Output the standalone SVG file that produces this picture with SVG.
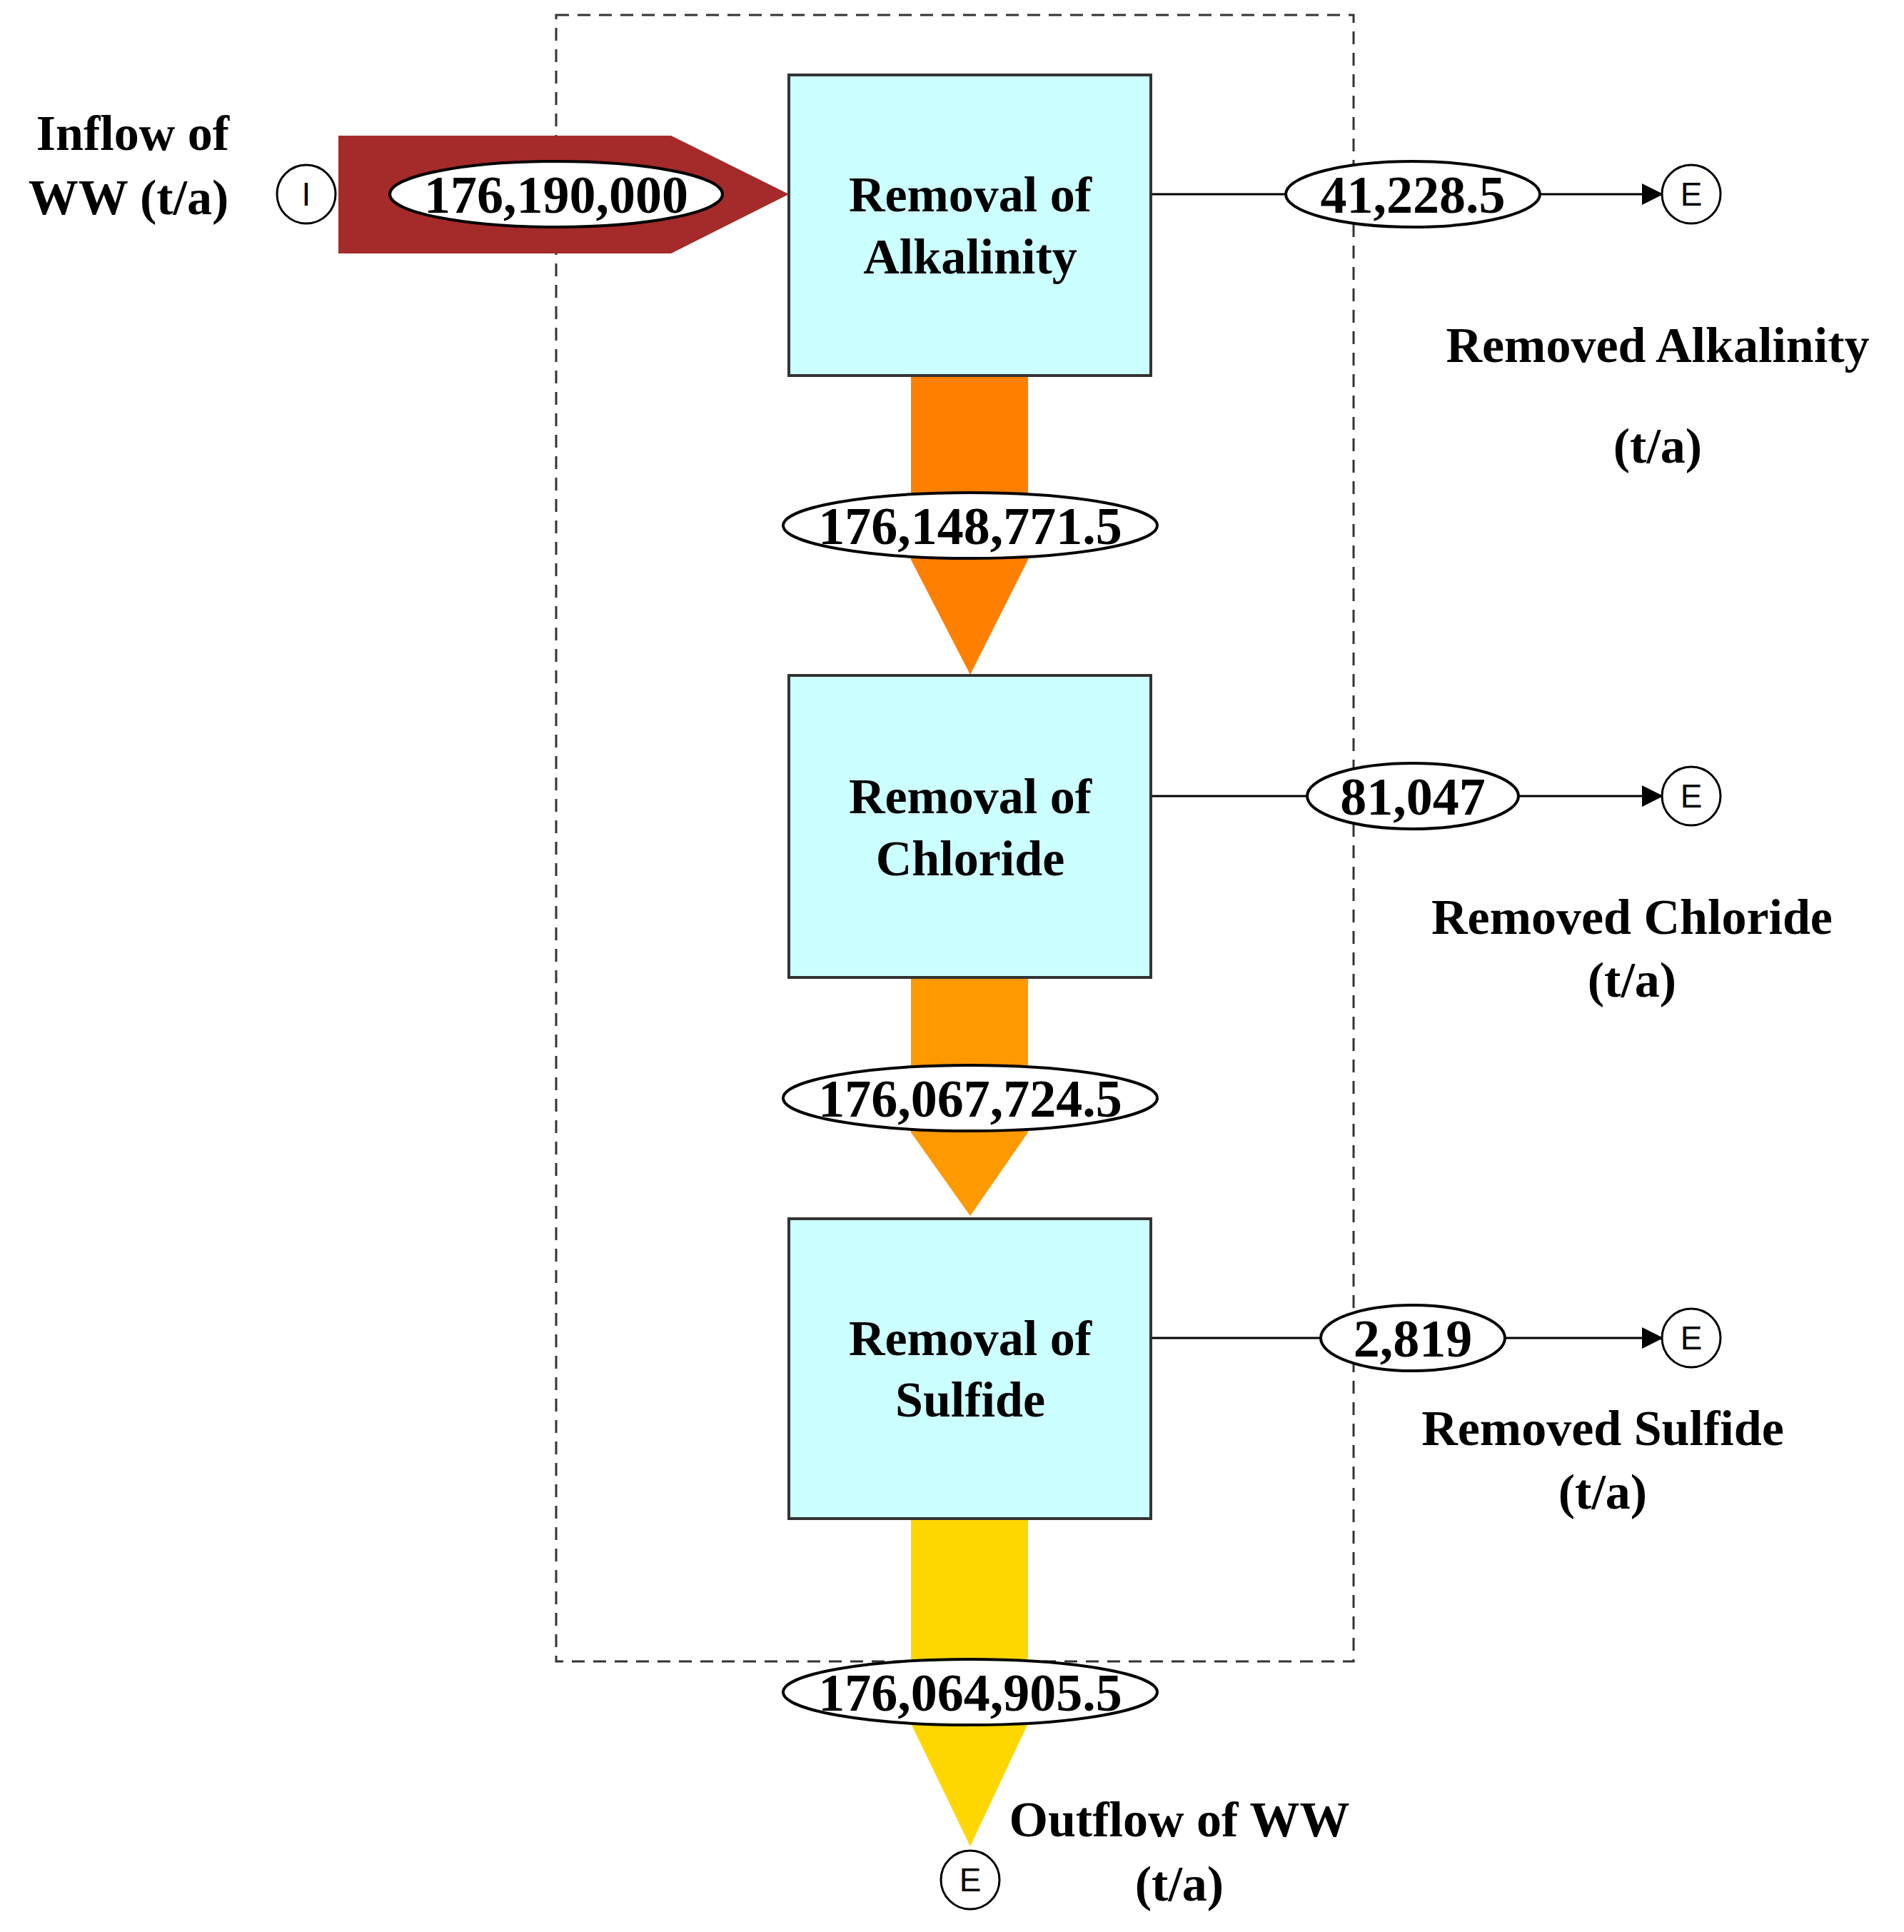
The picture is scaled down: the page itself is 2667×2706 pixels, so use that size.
<svg xmlns="http://www.w3.org/2000/svg" width="2667" height="2706" viewBox="0 0 2667 2706">
<defs>
<style>
text{font-family:"Liberation Serif","Times New Roman",serif;font-weight:bold;text-anchor:middle;fill:#000}
.t{font-size:70px}
.n{font-size:74px}
.box{fill:#CCFFFF;stroke:#333;stroke-width:4}
.lab{fill:#fff;stroke:#000;stroke-width:4}
.c{fill:#fff;stroke:#000;stroke-width:3}
.cl{font-family:"Liberation Sans",Arial,sans-serif;font-weight:normal;font-size:46px}
</style>
<marker id="ah" markerWidth="10" markerHeight="10" refX="9" refY="5" orient="auto" markerUnits="strokeWidth"><path d="M0,0L10,5L0,10z" fill="#000"/></marker>
</defs>
<rect x="779" y="21" width="1117" height="2306" fill="none" stroke="#333" stroke-width="3" stroke-dasharray="18,12"/>
<g id="connectors">
<polygon points="474,190 940,190 1105,272 940,355 474,355" fill="#A52A2A"/>
<polygon points="1276,526 1440,526 1440,784 1359,945 1276,784" fill="#FF8000"/>
<polygon points="1276,1369 1440,1369 1440,1586 1359,1703 1276,1586" fill="#FF9900"/>
<polygon points="1276,2127 1440,2127 1440,2414 1359,2586 1276,2414" fill="#FFD700"/>
<line x1="1612" y1="272" x2="2327" y2="272" stroke="#000" stroke-width="3" marker-end="url(#ah)"/>
<line x1="1612" y1="1115" x2="2327" y2="1115" stroke="#000" stroke-width="3" marker-end="url(#ah)"/>
<line x1="1612" y1="1874" x2="2327" y2="1874" stroke="#000" stroke-width="3" marker-end="url(#ah)"/>
<ellipse class="lab" cx="779" cy="272" rx="233" ry="46"/><text class="n" x="779" y="298">176,190,000</text>
<ellipse class="lab" cx="1359" cy="736" rx="262" ry="46"/><text class="n" x="1359" y="762">176,148,771.5</text>
<ellipse class="lab" cx="1359" cy="1538" rx="262" ry="46"/><text class="n" x="1359" y="1564">176,067,724.5</text>
<ellipse class="lab" cx="1359" cy="2370" rx="262" ry="46"/><text class="n" x="1359" y="2396">176,064,905.5</text>
<ellipse class="lab" cx="1979" cy="272" rx="178" ry="46"/><text class="n" x="1979" y="298">41,228.5</text>
<ellipse class="lab" cx="1979" cy="1115" rx="148" ry="46"/><text class="n" x="1979" y="1141">81,047</text>
<ellipse class="lab" cx="1979" cy="1874" rx="129" ry="46"/><text class="n" x="1979" y="1900">2,819</text>
</g>
<g id="box1"><rect class="box" x="1105" y="105" width="507" height="421"/><text class="t" x="1359" y="296">Removal of</text><text class="t" x="1359" y="383">Alkalinity</text></g>
<g id="box2"><rect class="box" x="1105" y="946" width="507" height="423"/><text class="t" x="1359" y="1139">Removal of</text><text class="t" x="1359" y="1226">Chloride</text></g>
<g id="box3"><rect class="box" x="1105" y="1707" width="507" height="420"/><text class="t" x="1359" y="1898">Removal of</text><text class="t" x="1359" y="1984">Sulfide</text></g>
<g id="in"><circle class="c" cx="429" cy="272" r="41"/><text class="cl" x="429" y="288">I</text></g>
<g id="e1"><circle class="c" cx="2369" cy="272" r="41"/><text class="cl" x="2369" y="288">E</text></g>
<g id="e2"><circle class="c" cx="2369" cy="1115" r="41"/><text class="cl" x="2369" y="1131">E</text></g>
<g id="e3"><circle class="c" cx="2369" cy="1874" r="41"/><text class="cl" x="2369" y="1890">E</text></g>
<g id="e4"><circle class="c" cx="1359" cy="2633" r="41"/><text class="cl" x="1359" y="2649">E</text></g>
<g id="labels">
<text class="t" x="186" y="210">Inflow of</text><text class="t" x="180" y="300">WW (t/a)</text>
<text class="t" x="2322" y="507">Removed Alkalinity</text><text class="t" x="2322" y="648">(t/a)</text>
<text class="t" x="2286" y="1308">Removed Chloride</text><text class="t" x="2286" y="1396">(t/a)</text>
<text class="t" x="2245" y="2024">Removed Sulfide</text><text class="t" x="2245" y="2113">(t/a)</text>
<text class="t" x="1652" y="2572">Outflow of WW</text><text class="t" x="1652" y="2662">(t/a)</text>
</g>
</svg>
